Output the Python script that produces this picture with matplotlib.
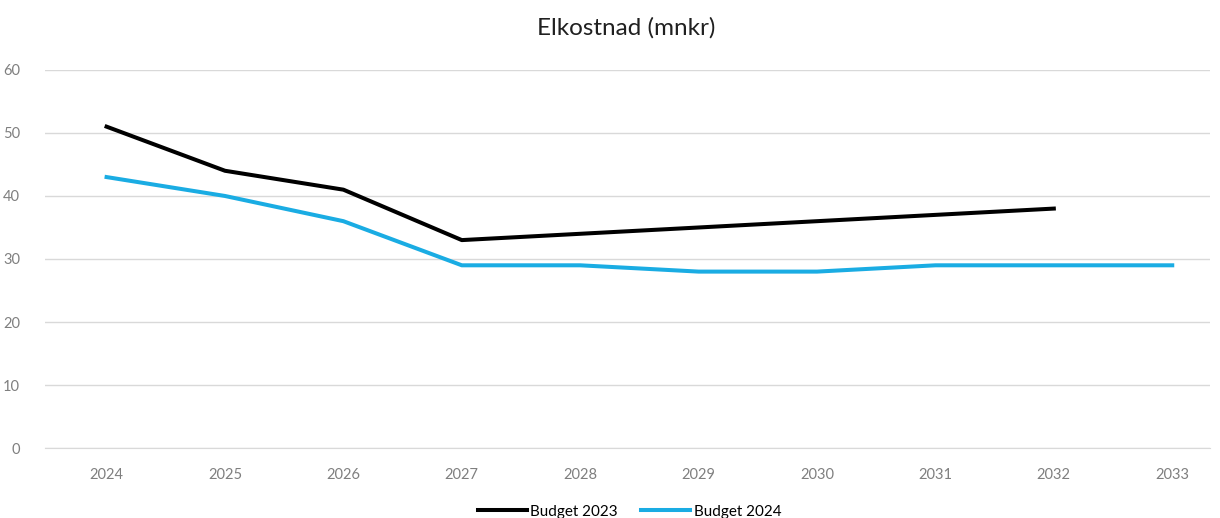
import matplotlib
matplotlib.use('Agg')
import matplotlib.pyplot as plt

plt.rcParams['font.family'] = ['Lato', 'DejaVu Sans']

YEARS = ['2024', '2025', '2026', '2027', '2028', '2029', '2030', '2031', '2032', '2033']
BUDGET_2023 = [51, 44, 41, 33, 34, 35, 36, 37, 38]
BUDGET_2024 = [43, 40, 36, 29, 29, 28, 28, 29, 29, 29]

BLACK = '#000000'
BLUE = '#1AACE3'
GRID = '#D9D9D9'
TICK = '#7F7F7F'

fig = plt.figure(figsize=(12.2, 5.18), dpi=100)
ax = fig.add_axes([0.0369, 0.135, 0.955, 0.730])

x23 = range(len(BUDGET_2023))
x24 = range(len(BUDGET_2024))
ax.plot(x23, BUDGET_2023, color=BLACK, lw=2.9, label='Budget 2023', solid_joinstyle='round')
ax.plot(x24, BUDGET_2024, color=BLUE, lw=2.9, label='Budget 2024', solid_joinstyle='round')

ax.set_xlim(-0.52, 9.32)
ax.set_ylim(0, 60)
ax.set_yticks(range(0, 61, 10))
ax.set_xticks(range(len(YEARS)))
ax.set_xticklabels(YEARS)
ax.grid(axis='y', color=GRID, lw=1)
ax.set_axisbelow(True)
for s in ['top', 'right', 'left']:
    ax.spines[s].set_visible(False)
ax.spines['bottom'].set_color(GRID)
ax.tick_params(axis='both', length=0, labelsize=10.5, colors=TICK)
ax.tick_params(axis='x', pad=14)
ax.tick_params(axis='y', pad=18)

fig.suptitle('Elkostnad (mnkr)', x=0.513, y=0.968, fontsize=17.5, color='#202020')

fig.legend(loc='center', bbox_to_anchor=(0.516, 0.012), ncol=2, frameon=False,
           fontsize=11, handlelength=3.2, handletextpad=0.25, columnspacing=1.5)

plt.savefig('out.png', dpi=100)
